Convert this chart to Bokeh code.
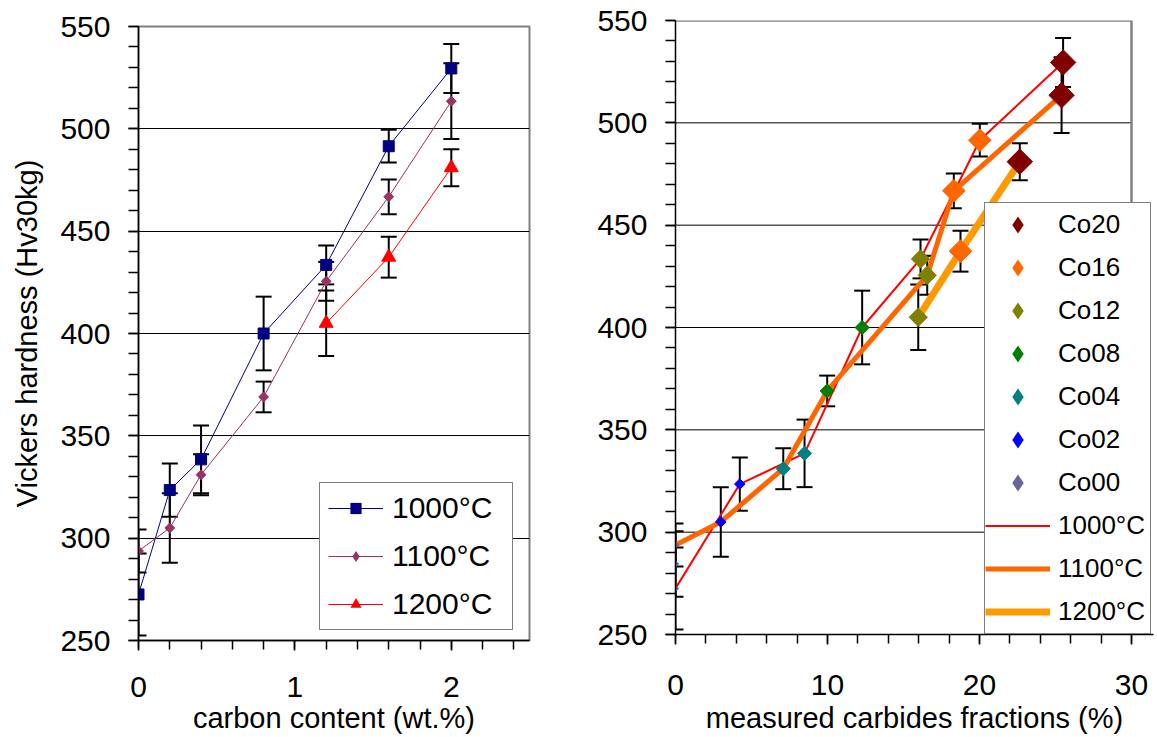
import numpy as np
from bokeh.plotting import figure
from bokeh.models import (Range1d, FixedTicker, Whisker, TeeHead, ColumnDataSource,
                          Legend, LegendItem)
from bokeh.layouts import row
from bokeh.embed import file_html
from bokeh.resources import INLINE

# ---------------- data ----------------
alloys = ["Co00", "Co02", "Co04", "Co08", "Co12", "Co16", "Co20"]
carbon = [0.0, 0.2, 0.4, 0.8, 1.2, 1.6, 2.0]

hv_1000 = [272.5, 323.5, 338.5, 400.0, 433.5, 491.5, 529.5]
err_1000 = [20.0, 13.0, 16.5, 18.0, 9.5, 8.0, 12.0]
hv_1100 = [293.7, 305.0, 331.0, 369.0, 425.5, 466.8, 513.5]
err_1100 = [10.5, 17.0, 10.0, 7.5, 9.5, 8.5, 18.5]
carbon_1200 = [1.2, 1.6, 2.0]
hv_1200 = [405.0, 437.3, 481.0]
err_1200 = [16.0, 10.0, 9.0]

frac_1000 = [0.0, 4.23, 8.49, 12.28, 16.12, 20.02, 25.5]
frac_1100 = [0.0, 2.98, 7.09, 9.98, 16.56, 18.31, 25.4]
frac_1200 = [15.97, 18.75, 22.65]
co00_extra_frac = [0.0]
co00_extra_hv = [284.5]
co00_extra_err = [16.0]

temps = ["1000°C", "1100°C", "1200°C"]
y_ticks = [250, 300, 350, 400, 450, 500, 550]
left_x_ticks = [0, 1, 2]
right_x_ticks = [0, 10, 20, 30]

# ---------------- styles ----------------
FONT = "Liberation Sans"
left_colors = {"1000°C": "#000080", "1100°C": "#993366", "1200°C": "#FF0000"}
left_markers = {"1000°C": ("square", 11, 0.0), "1100°C": ("square", 7, np.pi / 4),
                "1200°C": ("triangle", 14, 0.0)}
left_legend_markers = {"1000°C": "square", "1100°C": "diamond", "1200°C": "triangle"}
right_line_colors = {"1000°C": "#FF0000", "1100°C": "#FF6600", "1200°C": "#FF9900"}
right_line_widths = {"1000°C": 2, "1100°C": 5, "1200°C": 7}
alloy_colors = {"Co20": "#800000", "Co16": "#FF6600", "Co12": "#808000", "Co08": "#008000",
                "Co04": "#008080", "Co02": "#0000FF", "Co00": "#666699"}
alloy_sizes = {"Co20": 18, "Co16": 16, "Co12": 13, "Co08": 10, "Co04": 10, "Co02": 7.5, "Co00": 4.5}
PX_PER_PCT = 15.2  # right panel: px per 1 % carbide fraction
FIG_H = 737


def no_frame_align(p):
    if "frame_align" in p.properties():
        p.frame_align = False


def style_axes(p, xticks, xminor, xlabel, ylabel, x_standoff, x_title_standoff):
    yt = FixedTicker(ticks=y_ticks, minor_ticks=list(range(250, 551, 10)))
    p.yaxis.ticker = yt
    p.xaxis.ticker = FixedTicker(ticks=xticks, minor_ticks=xminor)
    p.ygrid.ticker = yt
    p.ygrid.grid_line_color = "black"
    p.ygrid.grid_line_width = 1
    p.xgrid.visible = False
    for ax in list(p.xaxis) + list(p.yaxis):
        ax.axis_line_color = "black"
        ax.axis_line_width = 1.5
        ax.major_tick_line_color = "black"
        ax.major_tick_line_width = 1.5
        ax.minor_tick_line_color = "black"
        ax.minor_tick_line_width = 1.5
        ax.major_tick_in = 0
        ax.minor_tick_in = 0
        ax.major_label_text_font = FONT
        ax.major_label_text_font_size = "30px"
        ax.major_label_text_color = "black"
        ax.axis_label_text_font = FONT
        ax.axis_label_text_font_size = "29px"
        ax.axis_label_text_font_style = "normal"
        ax.axis_label_text_color = "black"
    for ax in p.yaxis:
        ax.major_tick_out = 10
        ax.minor_tick_out = 10
        ax.major_label_standoff = 18
        ax.axis_label_standoff = 14
    for ax in p.xaxis:
        ax.major_tick_out = 10
        ax.minor_tick_out = 9
        ax.major_label_standoff = x_standoff
        ax.axis_label_standoff = x_title_standoff
    p.xaxis.axis_label = xlabel
    if ylabel:
        p.yaxis.axis_label = ylabel


def add_whiskers(p, xs, ys, errs):
    src = ColumnDataSource(dict(x=list(xs), lo=[y - e for y, e in zip(ys, errs)],
                                hi=[y + e for y, e in zip(ys, errs)]))
    w = Whisker(source=src, base="x", lower="lo", upper="hi", dimension="height",
                line_color="black", line_width=2,
                upper_head=TeeHead(size=16, line_color="black", line_width=2),
                lower_head=TeeHead(size=16, line_color="black", line_width=2))
    p.add_layout(w)


# ---------------- left figure ----------------
p1 = figure(width=560, height=FIG_H, x_range=Range1d(0, 2.5), y_range=Range1d(250, 550),
            output_backend="svg", toolbar_location=None,
            min_border_left=138, min_border_right=31, min_border_top=26,
            min_border_bottom=FIG_H - 640,
            outline_line_color="#808080", outline_line_width=2,
            background_fill_color="white", border_fill_color="white")
no_frame_align(p1)
style_axes(p1, left_x_ticks, [round(v, 1) for v in np.arange(0, 2.5, 0.2)],
           "carbon content (wt.%)", "Vickers hardness (Hv30kg)", 26, 2)

left_series = {"1000°C": (carbon, hv_1000, err_1000),
               "1100°C": (carbon, hv_1100, err_1100),
               "1200°C": (carbon_1200, hv_1200, err_1200)}
for t in temps:
    xs, ys, es = left_series[t]
    add_whiskers(p1, xs, ys, es)

left_items = []
for t in temps:
    xs, ys, es = left_series[t]
    c = left_colors[t]
    ln = p1.line(xs, ys, line_color=c, line_width=1)
    mk, sz, ang = left_markers[t]
    p1.scatter(xs, ys, marker=mk, size=sz, angle=ang, fill_color=c, line_color=c)
    # legend proxy: zero size in the plot, the legend draws its own marker size
    proxy = p1.scatter(xs, ys, marker=left_legend_markers[t], size=0, fill_color=c,
                       line_color=None)
    left_items.append(LegendItem(label=t, renderers=[ln, proxy]))

leg1 = Legend(items=left_items, location=(181, 10), label_text_font=FONT,
              label_text_font_size="30px", label_text_color="black",
              glyph_width=55, glyph_height=28, label_height=34, label_width=112,
              label_standoff=9, padding=8, spacing=14, margin=0,
              border_line_color="black", border_line_width=1.5, background_fill_color="white",
              background_fill_alpha=1, inactive_fill_alpha=0)
p1.add_layout(leg1)

# ---------------- right figure ----------------
R_LEFT, R_RIGHT = 115, 2
R_WIDTH = 595
x_end = (R_WIDTH - R_LEFT - R_RIGHT) / PX_PER_PCT
p2 = figure(width=R_WIDTH, height=FIG_H, x_range=Range1d(0, x_end), y_range=Range1d(250, 550),
            output_backend="svg", toolbar_location=None,
            min_border_left=R_LEFT, min_border_right=R_RIGHT, min_border_top=20,
            min_border_bottom=FIG_H - 634,
            outline_line_color=None,
            background_fill_color="white", border_fill_color="white")
no_frame_align(p2)
style_axes(p2, right_x_ticks, list(range(0, 31, 2)), "measured carbides fractions (%)", None,
           30, 4)
p2.ygrid.visible = False
x_max = right_x_ticks[-1]
# gridlines and plot-area border limited to the 0-30 % extent
grid_y = y_ticks[1:-1]
p2.segment(x0=[0] * len(grid_y), x1=[x_max] * len(grid_y), y0=grid_y, y1=grid_y,
           line_color="black", line_width=1)
p2.segment(x0=[0, x_max], x1=[x_max, x_max], y0=[y_ticks[-1], y_ticks[0]],
           y1=[y_ticks[-1], y_ticks[-1]], line_color="#808080", line_width=2.5)

right_series = {"1000°C": (frac_1000, hv_1000, err_1000),
                "1100°C": (frac_1100, hv_1100, err_1100),
                "1200°C": (frac_1200, hv_1200, err_1200)}
for t in temps:
    xs, ys, es = right_series[t]
    add_whiskers(p2, xs, ys, es)
add_whiskers(p2, co00_extra_frac, co00_extra_hv, co00_extra_err)

line_renderers = {}
for t in temps:
    xs, ys, es = right_series[t]
    line_renderers[t] = p2.line(xs, ys, line_color=right_line_colors[t],
                                line_width=right_line_widths[t])

legend_proxies = {}
for i, a in enumerate(alloys):
    xs = [frac_1000[i], frac_1100[i]]
    ys = [hv_1000[i], hv_1100[i]]
    if i >= 4:
        xs.append(frac_1200[i - 4])
        ys.append(hv_1200[i - 4])
    if a == "Co00":
        xs += co00_extra_frac
        ys += co00_extra_hv
    p2.scatter(xs, ys, marker="square", angle=np.pi / 4, size=alloy_sizes[a],
               fill_color=alloy_colors[a], line_color=alloy_colors[a])
    legend_proxies[a] = p2.scatter(xs, ys, marker="diamond", size=0,
                                   fill_color=alloy_colors[a], line_color=None)

right_items = [LegendItem(label=a, renderers=[legend_proxies[a]]) for a in alloys[::-1]]
right_items += [LegendItem(label=t, renderers=[line_renderers[t]]) for t in temps]
leg2 = Legend(items=right_items, location=(309, 0), label_text_font=FONT,
              label_text_font_size="26px", label_text_color="black",
              glyph_width=65, glyph_height=43, label_height=43, label_width=92,
              label_standoff=8, padding=0, spacing=0, margin=0,
              border_line_color="black", border_line_width=1.5, background_fill_color="white",
              background_fill_alpha=1, inactive_fill_alpha=0)
p2.add_layout(leg2)

layout = row(p1, p2)
open("out.html", "w").write(file_html(layout, INLINE))
